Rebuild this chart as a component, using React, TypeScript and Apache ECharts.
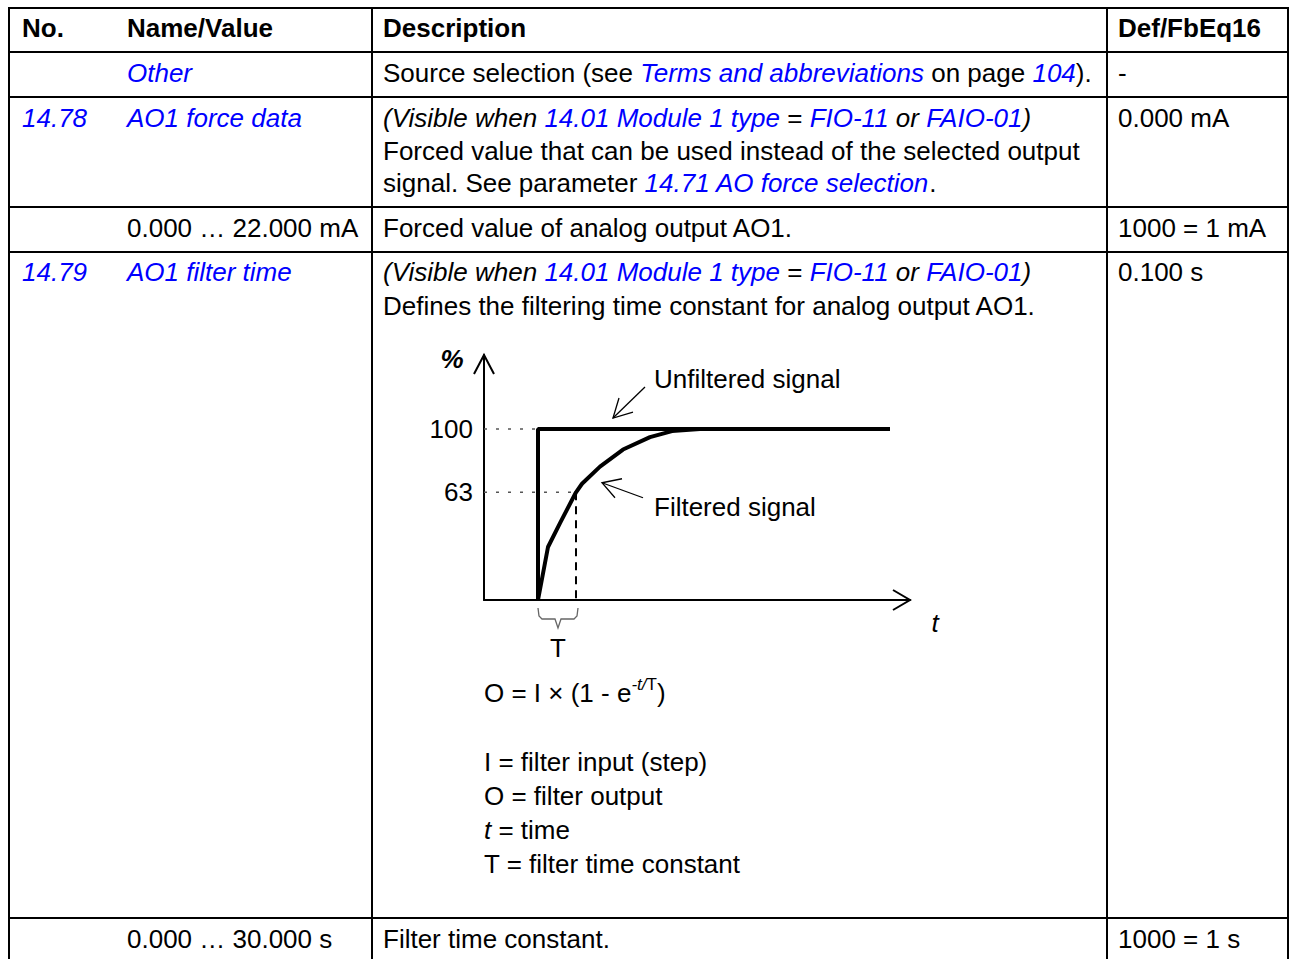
import React, { useEffect, useRef } from "react";
import * as echarts from "echarts";

// ---------- data ----------
const headers = ["No.", "Name/Value", "Description", "Def/FbEq16"];
const paramNumbers = ["14.78", "14.79"];
const paramNames = ["Other", "AO1 force data", "AO1 filter time"];
const valueRanges = ["0.000 … 22.000 mA", "0.000 … 30.000 s"];
const defaults = ["-", "0.000 mA", "1000 = 1 mA", "0.100 s", "1000 = 1 s"];

// step response diagram: x in units of the time constant T, y in %
const stepTime = 1.35;
const timeConstantPoint = 2.3; // t = T, output reaches 63 %
const unfilteredSignal = [[1.35, 0], [1.35, 100], [10.15, 100]];
const filteredSignal = [
  [1.35, 0], [1.6, 31], [1.9, 45], [2.3, 63], [2.45, 68], [2.9, 78],
  [3.475, 88], [4.15, 95.3], [4.7, 98.8], [5.4, 100],
];
const yTickLabels = [63, 100];
const xMax = 10.65;
const yMax = 143.3;

// ---------- style ----------
const FONT = "'Liberation Sans', Arial, Helvetica, sans-serif";
const FS = 26;
const BLUE = "#0000FF";

const base = { fontSize: FS, fontFamily: FONT, fill: "#000" };
const rich = {
  n: { fontSize: FS, fontFamily: FONT, fill: "#000" },
  i: { fontSize: FS, fontFamily: FONT, fill: "#000", fontStyle: "italic" },
  l: { fontSize: FS, fontFamily: FONT, fill: BLUE, fontStyle: "italic" },
};

function txt(x: number, y: number, text: string, extra: any = {}) {
  return {
    type: "text",
    x,
    y,
    silent: true,
    z: 10,
    style: { ...base, text, align: "left", verticalAlign: "middle", ...extra },
  };
}
function rtxt(x: number, y: number, text: string) {
  return txt(x, y, text, { rich });
}
function hline(y: number, x1: number, x2: number) {
  return { type: "line", silent: true, z: 5, shape: { x1, y1: y, x2, y2: y }, style: { stroke: "#000", lineWidth: 2 } };
}
function vline(x: number, y1: number, y2: number) {
  return { type: "line", silent: true, z: 5, shape: { x1: x, y1, x2: x, y2 }, style: { stroke: "#000", lineWidth: 2 } };
}

const visibleWhen =
  "{i|(Visible when }{l|14.01 Module 1 type}{n| = }{l|FIO-11}{i| or }{l|FAIO-01}{i|)}";

export default function App() {
  const ref = useRef<HTMLDivElement>(null);
  useEffect(() => {
    if (!ref.current) return;
    const chart = echarts.init(ref.current, null, { renderer: "svg" });

    const L = 9, R = 1288, TOP = 8, BOT = 975;
    const c1 = 22, c2 = 127, c3 = 383, c4 = 1118;

    const tableGraphics: any[] = [
      { type: "rect", silent: true, z: 5, shape: { x: L, y: TOP, width: R - L, height: BOT - TOP }, style: { fill: "none", stroke: "#000", lineWidth: 2 } },
      hline(52, L, R), hline(97, L, R), hline(207, L, R), hline(252, L, R), hline(918, L, R),
      vline(372, TOP, BOT), vline(1107, TOP, BOT),
      // header
      txt(c1, 28, headers[0], { fontWeight: "bold" }),
      txt(c2, 28, headers[1], { fontWeight: "bold" }),
      txt(c3, 28, headers[2], { fontWeight: "bold" }),
      txt(c4, 28, headers[3], { fontWeight: "bold" }),
      // Other
      txt(c2, 73, paramNames[0], { fill: BLUE, fontStyle: "italic" }),
      rtxt(c3, 73, "{n|Source selection (see }{l|Terms and abbreviations}{n| on page }{l|104}{n|).}"),
      txt(c4, 73, defaults[0]),
      // 14.78
      txt(c1, 118, paramNumbers[0], { fill: BLUE, fontStyle: "italic" }),
      txt(c2, 118, paramNames[1], { fill: BLUE, fontStyle: "italic" }),
      rtxt(c3, 118, visibleWhen),
      txt(c3, 151, "Forced value that can be used instead of the selected output"),
      rtxt(c3, 183, "{n|signal. See parameter }{l|14.71 AO force selection}{n|.}"),
      txt(c4, 118, defaults[1]),
      // range
      txt(c2, 228, valueRanges[0]),
      txt(c3, 228, "Forced value of analog output AO1."),
      txt(c4, 228, defaults[2]),
      // 14.79
      txt(c1, 272, paramNumbers[1], { fill: BLUE, fontStyle: "italic" }),
      txt(c2, 272, paramNames[2], { fill: BLUE, fontStyle: "italic" }),
      rtxt(c3, 272, visibleWhen),
      txt(c3, 306, "Defines the filtering time constant for analog output AO1."),
      txt(c4, 272, defaults[3]),
      // formula and legend
      txt(484, 693, "{m|O = I × (1 - e}{si|-t/}{s|T}{m|)}", {
        rich: {
          m: { fontSize: FS, fontFamily: FONT, fill: "#000", lineHeight: 34 },
          si: { fontSize: 17, fontFamily: FONT, fill: "#000", fontStyle: "italic", lineHeight: 16, verticalAlign: "top" },
          s: { fontSize: 17, fontFamily: FONT, fill: "#000", lineHeight: 16, verticalAlign: "top" },
        },
      }),
      txt(484, 762, "I = filter input (step)"),
      txt(484, 796, "O = filter output"),
      rtxt(484, 830, "{i|t}{n| = time}"),
      txt(484, 864, "T = filter time constant"),
      // last row
      txt(c2, 939, valueRanges[1]),
      txt(c3, 939, "Filter time constant."),
      txt(c4, 939, defaults[4]),
    ];

    const thick = { color: "#000", width: 4 };
    const option: any = {
      animation: false,
      backgroundColor: "#fff",
      textStyle: { fontFamily: FONT },
      grid: { left: 484, top: 355, width: 426, height: 245, containLabel: false, outerBoundsMode: "none" },
      xAxis: {
        type: "value", min: 0, max: xMax,
        axisLine: { show: true, lineStyle: { color: "#000", width: 2 } },
        axisTick: { show: false }, axisLabel: { show: false }, splitLine: { show: false },
      },
      yAxis: {
        type: "value", min: 0, max: yMax,
        axisLine: { show: true, lineStyle: { color: "#000", width: 2 } },
        axisTick: { show: false },
        splitLine: { show: false },
        axisLabel: { show: true, customValues: yTickLabels, color: "#000", fontSize: FS, fontFamily: FONT, margin: 11 },
      },
      series: [
        { type: "line", name: "guide100", data: [[0, 100], [stepTime, 100]], showSymbol: false, silent: true, z: 1,
          lineStyle: { color: "#555", width: 1.5, type: [3, 9] } },
        { type: "line", name: "guide63", data: [[0, 63], [timeConstantPoint, 63]], showSymbol: false, silent: true, z: 1,
          lineStyle: { color: "#555", width: 1.5, type: [3, 9] } },
        { type: "line", name: "guideT", data: [[timeConstantPoint, 63], [timeConstantPoint, 0]], showSymbol: false, silent: true, z: 1,
          lineStyle: { color: "#000", width: 2, type: [8, 6] } },
        { type: "line", name: "Unfiltered signal", data: unfilteredSignal, showSymbol: false, silent: true, z: 3, lineStyle: thick },
        { type: "line", name: "Filtered signal", data: filteredSignal, showSymbol: false, silent: true, z: 3, lineStyle: thick },
      ],
      graphic: { elements: tableGraphics },
    };
    chart.setOption(option);

    const px = (p: number[]) => chart.convertToPixel({ gridIndex: 0 }, p) as number[];
    const yTop = px([0, yMax]);
    const xEnd = px([xMax, 0]);
    const s0 = px([stepTime, 0]);
    const sT = px([timeConstantPoint, 0]);
    const uA = px([3.225, 100]);
    const fA = px([2.45, 68]);
    const thin = { stroke: "#000", lineWidth: 1.3, fill: "none" };
    const poly = (points: number[][], style: any = thin) => ({ type: "polyline", silent: true, z: 6, shape: { points }, style });

    const uTip = [uA[0], uA[1] - 11];
    const fTip = [fA[0] + 20, fA[1] - 1];
    const bx0 = s0[0], bx1 = sT[0] + 2, by = s0[1] + 8, bm = (bx0 + bx1) / 2;

    const chartGraphics: any[] = [
      poly([[yTop[0] - 10, yTop[1] + 19], yTop, [yTop[0] + 10, yTop[1] + 19]], { stroke: "#000", lineWidth: 2, fill: "none" }),
      poly([[xEnd[0] - 17, xEnd[1] - 10], xEnd, [xEnd[0] - 17, xEnd[1] + 10]], { stroke: "#000", lineWidth: 2, fill: "none" }),
      txt(yTop[0] - 32, yTop[1] + 4, "%", { align: "center", fontWeight: "bold", fontStyle: "italic" }),
      txt(xEnd[0] + 25, xEnd[1] + 23, "t", { align: "center", fontStyle: "italic" }),
      // brace
      poly([[bx0, by], [bx0 + 1, by + 8], [bx0 + 4, by + 11], [bm - 3, by + 11], [bm, by + 20],
        [bm + 3, by + 11], [bx1 - 4, by + 11], [bx1 - 1, by + 8], [bx1, by]], { stroke: "#666", lineWidth: 1.3, fill: "none" }),
      txt(bm, 648, "T", { align: "center" }),
      // unfiltered arrow
      poly([[uTip[0] + 32, uTip[1] - 31], uTip]),
      poly([[uTip[0] + 6, uTip[1] - 20], uTip, [uTip[0] + 20, uTip[1] - 6]]),
      txt(uTip[0] + 41, uTip[1] - 39, "Unfiltered signal"),
      // filtered arrow
      poly([[fTip[0] + 41, fTip[1] + 15], fTip]),
      poly([[fTip[0] + 20, fTip[1] - 4], fTip, [fTip[0] + 13, fTip[1] + 15]]),
      txt(fTip[0] + 52, fTip[1] + 24, "Filtered signal"),
    ];
    chart.setOption({ graphic: { elements: [...tableGraphics, ...chartGraphics] } });

    return () => chart.dispose();
  }, []);
  return (
    <div
      ref={ref}
      style={{ position: "absolute", left: 0, top: 0, width: 1292, height: 959, background: "#fff" }}
    />
  );
}
